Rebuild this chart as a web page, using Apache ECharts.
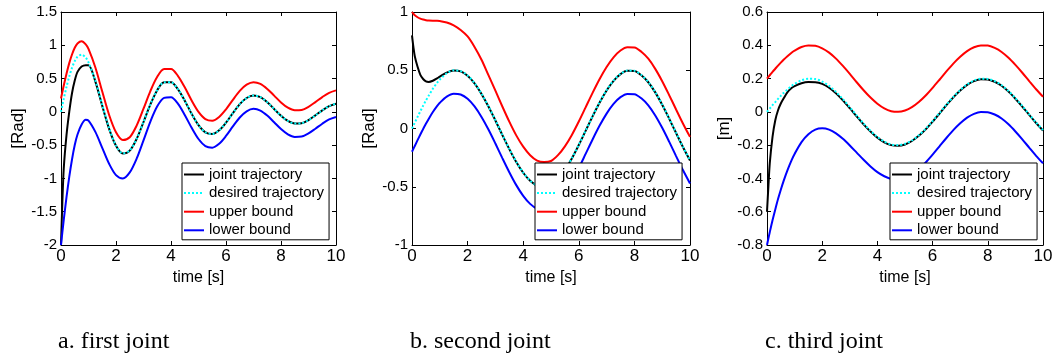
<!DOCTYPE html>
<html>
<head>
<meta charset="utf-8">
<script src="https://cdn.jsdelivr.net/npm/echarts@6/dist/echarts.min.js"></script>
<style>
  html, body { margin: 0; padding: 0; background: #fff; }
  #chart { width: 1057px; height: 360px; }
</style>
</head>
<body>
<div id="chart"></div>
<script>
// sample times (s), shared by all three panels
var T = [0, 0.05, 0.1, 0.2, 0.3, 0.4, 0.5, 0.6, 0.75, 0.9, 1,
  1.25, 1.5, 1.75, 2, 2.25, 2.5, 2.75, 3, 3.25, 3.5, 3.75, 4, 4.25, 4.5, 4.75, 5,
  5.25, 5.5, 5.75, 6, 6.25, 6.5, 6.75, 7, 7.25, 7.5, 7.75, 8, 8.25, 8.5, 8.75, 9,
  9.25, 9.5, 9.75, 10];

// a. first joint [Rad]
var joint1 = [-2.0, -1.35, -0.85, -0.35, 0.0, 0.28, 0.47, 0.6, 0.68, 0.7, 0.7,
  0.455, 0.09, -0.255, -0.51, -0.626, -0.582, -0.407, -0.153, 0.112, 0.326, 0.443, 0.444,
  0.341, 0.168, -0.029, -0.2, -0.308, -0.333, -0.277, -0.162, -0.019, 0.115, 0.208, 0.245,
  0.22, 0.145, 0.044, -0.058, -0.137, -0.176, -0.171, -0.124, -0.053, 0.022, 0.086, 0.123];
var desired1 = [0, 0.099, 0.195, 0.374, 0.532, 0.662, 0.762, 0.827, 0.859, 0.813, 0.745,
  0.466, 0.105, -0.247, -0.507, -0.624, -0.582, -0.407, -0.153, 0.112, 0.326, 0.443, 0.444,
  0.341, 0.168, -0.029, -0.2, -0.308, -0.333, -0.277, -0.162, -0.019, 0.115, 0.208, 0.245,
  0.22, 0.145, 0.044, -0.058, -0.137, -0.176, -0.171, -0.124, -0.053, 0.022, 0.086, 0.123];
var upper1 = [0.2, 0.299, 0.395, 0.574, 0.732, 0.862, 0.962, 1.027, 1.059, 1.013, 0.945,
  0.666, 0.305, -0.047, -0.307, -0.424, -0.382, -0.207, 0.047, 0.312, 0.526, 0.643, 0.644,
  0.541, 0.368, 0.171, 0.0, -0.108, -0.133, -0.077, 0.038, 0.181, 0.315, 0.408, 0.445,
  0.42, 0.345, 0.244, 0.142, 0.063, 0.024, 0.029, 0.076, 0.147, 0.222, 0.286, 0.323];
var lower1 = [-2.0, -1.807, -1.623, -1.282, -0.978, -0.715, -0.498, -0.34, -0.19, -0.12, -0.13,
  -0.3, -0.54, -0.78, -0.95, -1.0, -0.91, -0.704, -0.429, -0.146, 0.083, 0.209, 0.219,
  0.123, -0.046, -0.239, -0.408, -0.514, -0.538, -0.48, -0.362, -0.219, -0.085, 0.008, 0.045,
  0.02, -0.055, -0.156, -0.258, -0.337, -0.376, -0.371, -0.324, -0.253, -0.178, -0.114, -0.077];

// b. second joint [Rad]
var joint2 = [0.8, 0.7, 0.62, 0.53, 0.46, 0.425, 0.405, 0.4, 0.41, 0.43, 0.445,
  0.48, 0.497, 0.49, 0.453, 0.387, 0.297, 0.189, 0.069, -0.056, -0.177, -0.288, -0.38,
  -0.449, -0.491, -0.501, -0.481, -0.431, -0.355, -0.257, -0.142, -0.018, 0.106, 0.223, 0.326,
  0.409, 0.467, 0.495, 0.493, 0.457, 0.397, 0.31, 0.204, 0.085, -0.039, -0.161, -0.274];
var desired2 = [0, 0.025, 0.05, 0.1, 0.148, 0.195, 0.24, 0.282, 0.341, 0.392, 0.421,
  0.474, 0.499, 0.492, 0.455, 0.389, 0.299, 0.191, 0.071, -0.054, -0.175, -0.286, -0.378,
  -0.447, -0.489, -0.499, -0.479, -0.429, -0.353, -0.255, -0.14, -0.016, 0.108, 0.225, 0.328,
  0.411, 0.469, 0.497, 0.495, 0.459, 0.399, 0.312, 0.206, 0.087, -0.037, -0.159, -0.272];
var upper2 = [1.0, 0.985, 0.972, 0.955, 0.943, 0.935, 0.93, 0.927, 0.925, 0.924, 0.922,
  0.91, 0.885, 0.845, 0.79, 0.7, 0.59, 0.458, 0.325, 0.189, 0.059, -0.059, -0.156,
  -0.229, -0.275, -0.288, -0.279, -0.229, -0.153, -0.055, 0.06, 0.184, 0.308, 0.425, 0.528,
  0.611, 0.669, 0.697, 0.695, 0.659, 0.599, 0.512, 0.406, 0.287, 0.163, 0.041, -0.072];
var lower2 = [-0.2, -0.175, -0.15, -0.1, -0.052, -0.005, 0.04, 0.082, 0.141, 0.192, 0.221,
  0.274, 0.299, 0.292, 0.255, 0.189, 0.099, -0.009, -0.129, -0.254, -0.375, -0.486, -0.578,
  -0.647, -0.689, -0.699, -0.679, -0.629, -0.553, -0.455, -0.34, -0.216, -0.092, 0.025, 0.128,
  0.211, 0.269, 0.297, 0.295, 0.259, 0.199, 0.112, 0.006, -0.113, -0.237, -0.359, -0.472];

// c. third joint [m]
var joint3 = [-0.6, -0.45, -0.31, -0.15, -0.05, 0.01, 0.05, 0.08, 0.12, 0.145, 0.155,
  0.172, 0.179, 0.178, 0.168, 0.145, 0.111, 0.069, 0.022, -0.027, -0.075, -0.118, -0.155,
  -0.183, -0.2, -0.204, -0.196, -0.175, -0.144, -0.105, -0.059, -0.01, 0.04, 0.087, 0.128,
  0.162, 0.185, 0.196, 0.195, 0.181, 0.157, 0.122, 0.079, 0.032, -0.018, -0.067, -0.112];
var desired3 = [0, 0.01, 0.02, 0.04, 0.059, 0.078, 0.096, 0.113, 0.136, 0.157, 0.168,
  0.19, 0.199, 0.197, 0.182, 0.156, 0.12, 0.076, 0.028, -0.022, -0.07, -0.114, -0.151,
  -0.179, -0.196, -0.2, -0.192, -0.172, -0.141, -0.102, -0.056, -0.007, 0.043, 0.09, 0.131,
  0.165, 0.188, 0.199, 0.198, 0.184, 0.16, 0.125, 0.082, 0.035, -0.015, -0.064, -0.109];
var upper3 = [0.2, 0.21, 0.22, 0.24, 0.259, 0.278, 0.296, 0.313, 0.336, 0.357, 0.368,
  0.39, 0.399, 0.397, 0.382, 0.356, 0.32, 0.276, 0.228, 0.178, 0.13, 0.086, 0.049,
  0.021, 0.004, 0.0, 0.008, 0.028, 0.059, 0.098, 0.144, 0.193, 0.243, 0.29, 0.331,
  0.365, 0.388, 0.399, 0.398, 0.384, 0.36, 0.325, 0.282, 0.235, 0.185, 0.136, 0.091];
var lower3 = [-0.8, -0.761, -0.723, -0.651, -0.586, -0.524, -0.468, -0.416, -0.347, -0.287, -0.253,
  -0.182, -0.135, -0.107, -0.099, -0.107, -0.129, -0.162, -0.202, -0.245, -0.288, -0.328, -0.362,
  -0.387, -0.403, -0.405, -0.396, -0.375, -0.343, -0.304, -0.257, -0.207, -0.157, -0.11, -0.069,
  -0.035, -0.012, -0.001, -0.002, -0.016, -0.04, -0.075, -0.118, -0.165, -0.215, -0.264, -0.309];

var seriesNames = ['joint trajectory', 'desired trajectory', 'upper bound', 'lower bound'];
var captions = ['a. first joint', 'b. second joint', 'c. third joint'];
var yNames = ['[Rad]', '[Rad]', '[m]'];
var yMin = [-2, -1, -0.8], yMax = [1.5, 1, 0.6], yStep = [0.5, 0.5, 0.2];

var panelData = [
  [joint1, desired1, upper1, lower1],
  [joint2, desired2, upper2, lower2],
  [joint3, desired3, upper3, lower3]
];

// layout (px)
var gridLeft = [61, 412, 767], gridWidth = [275, 278, 276];
var legendLeft = [182, 535, 890];
var yNameGap = [32, 28, 33];
var captionLeft = [58, 410, 765];

var FONT = 'Liberation Sans, Arial, sans-serif';
var styles = [
  { color: '#000000', type: 'solid' },
  { color: '#00ffff', type: 'dotted' },
  { color: '#ff0000', type: 'solid' },
  { color: '#0000ff', type: 'solid' }
];

function pairs(vals) {
  return T.map(function (t, i) { return [t, vals[i]]; });
}

var grid = [], xAxis = [], yAxis = [], series = [], legend = [], title = [];
var axisLine = { show: true, onZero: false, lineStyle: { color: '#000', width: 1 } };
var tick = { show: true, inside: true, length: 4, lineStyle: { color: '#000' } };

for (var p = 0; p < 3; p++) {
  grid.push({ left: gridLeft[p], top: 12, width: gridWidth[p], height: 233 });

  // bottom + top x axis (box look)
  xAxis.push({
    type: 'value', gridIndex: p, min: 0, max: 10, interval: 2, position: 'bottom',
    name: 'time [s]', nameLocation: 'middle', nameGap: 20,
    nameTextStyle: { color: '#000', fontSize: 16, fontFamily: FONT },
    axisLine: axisLine, axisTick: tick, splitLine: { show: false },
    axisLabel: { color: '#000', fontSize: 17, fontFamily: FONT, margin: 3 }
  });
  xAxis.push({
    type: 'value', gridIndex: p, min: 0, max: 10, interval: 2, position: 'top',
    axisLine: axisLine, axisTick: tick, splitLine: { show: false }, axisLabel: { show: false }
  });

  yAxis.push({
    type: 'value', gridIndex: p, min: yMin[p], max: yMax[p], interval: yStep[p], position: 'left',
    name: yNames[p], nameLocation: 'middle', nameGap: yNameGap[p],
    nameTextStyle: { color: '#000', fontSize: 17, fontFamily: FONT },
    axisLine: axisLine, axisTick: tick, splitLine: { show: false },
    axisLabel: { color: '#000', fontSize: 15, fontFamily: FONT, margin: 4 }
  });
  yAxis.push({
    type: 'value', gridIndex: p, min: yMin[p], max: yMax[p], interval: yStep[p], position: 'right',
    axisLine: axisLine, axisTick: tick, splitLine: { show: false }, axisLabel: { show: false }
  });

  panelData[p].forEach(function (vals, k) {
    series.push({
      type: 'line', name: seriesNames[k],
      xAxisIndex: p * 2, yAxisIndex: p * 2,
      data: pairs(vals),
      symbol: 'none', smooth: 0.3, silent: true, animation: false,
      lineStyle: { color: styles[k].color, type: styles[k].type, width: 2 },
      itemStyle: { color: styles[k].color }
    });
  });

  legend.push({
    orient: 'vertical', left: legendLeft[p], top: 163,
    data: seriesNames, selectedMode: false,
    itemWidth: 20, itemHeight: 16, itemGap: 3.6,
    itemStyle: { opacity: 0 },
    backgroundColor: '#fff', borderColor: '#000', borderWidth: 1, borderRadius: 0,
    padding: [4, 5, 2, 1],
    textStyle: { color: '#000', fontSize: 15, fontFamily: FONT }
  });

  title.push({
    text: captions[p], left: captionLeft[p], top: 330, padding: 0,
    textStyle: { color: '#000', fontSize: 24, fontWeight: 'normal',
      fontFamily: 'Liberation Serif, Times New Roman, serif' }
  });
}

var chart = echarts.init(document.getElementById('chart'));
chart.setOption({
  backgroundColor: '#fff',
  animation: false,
  title: title,
  grid: grid,
  xAxis: xAxis,
  yAxis: yAxis,
  legend: legend,
  series: series
});
</script>
</body>
</html>
